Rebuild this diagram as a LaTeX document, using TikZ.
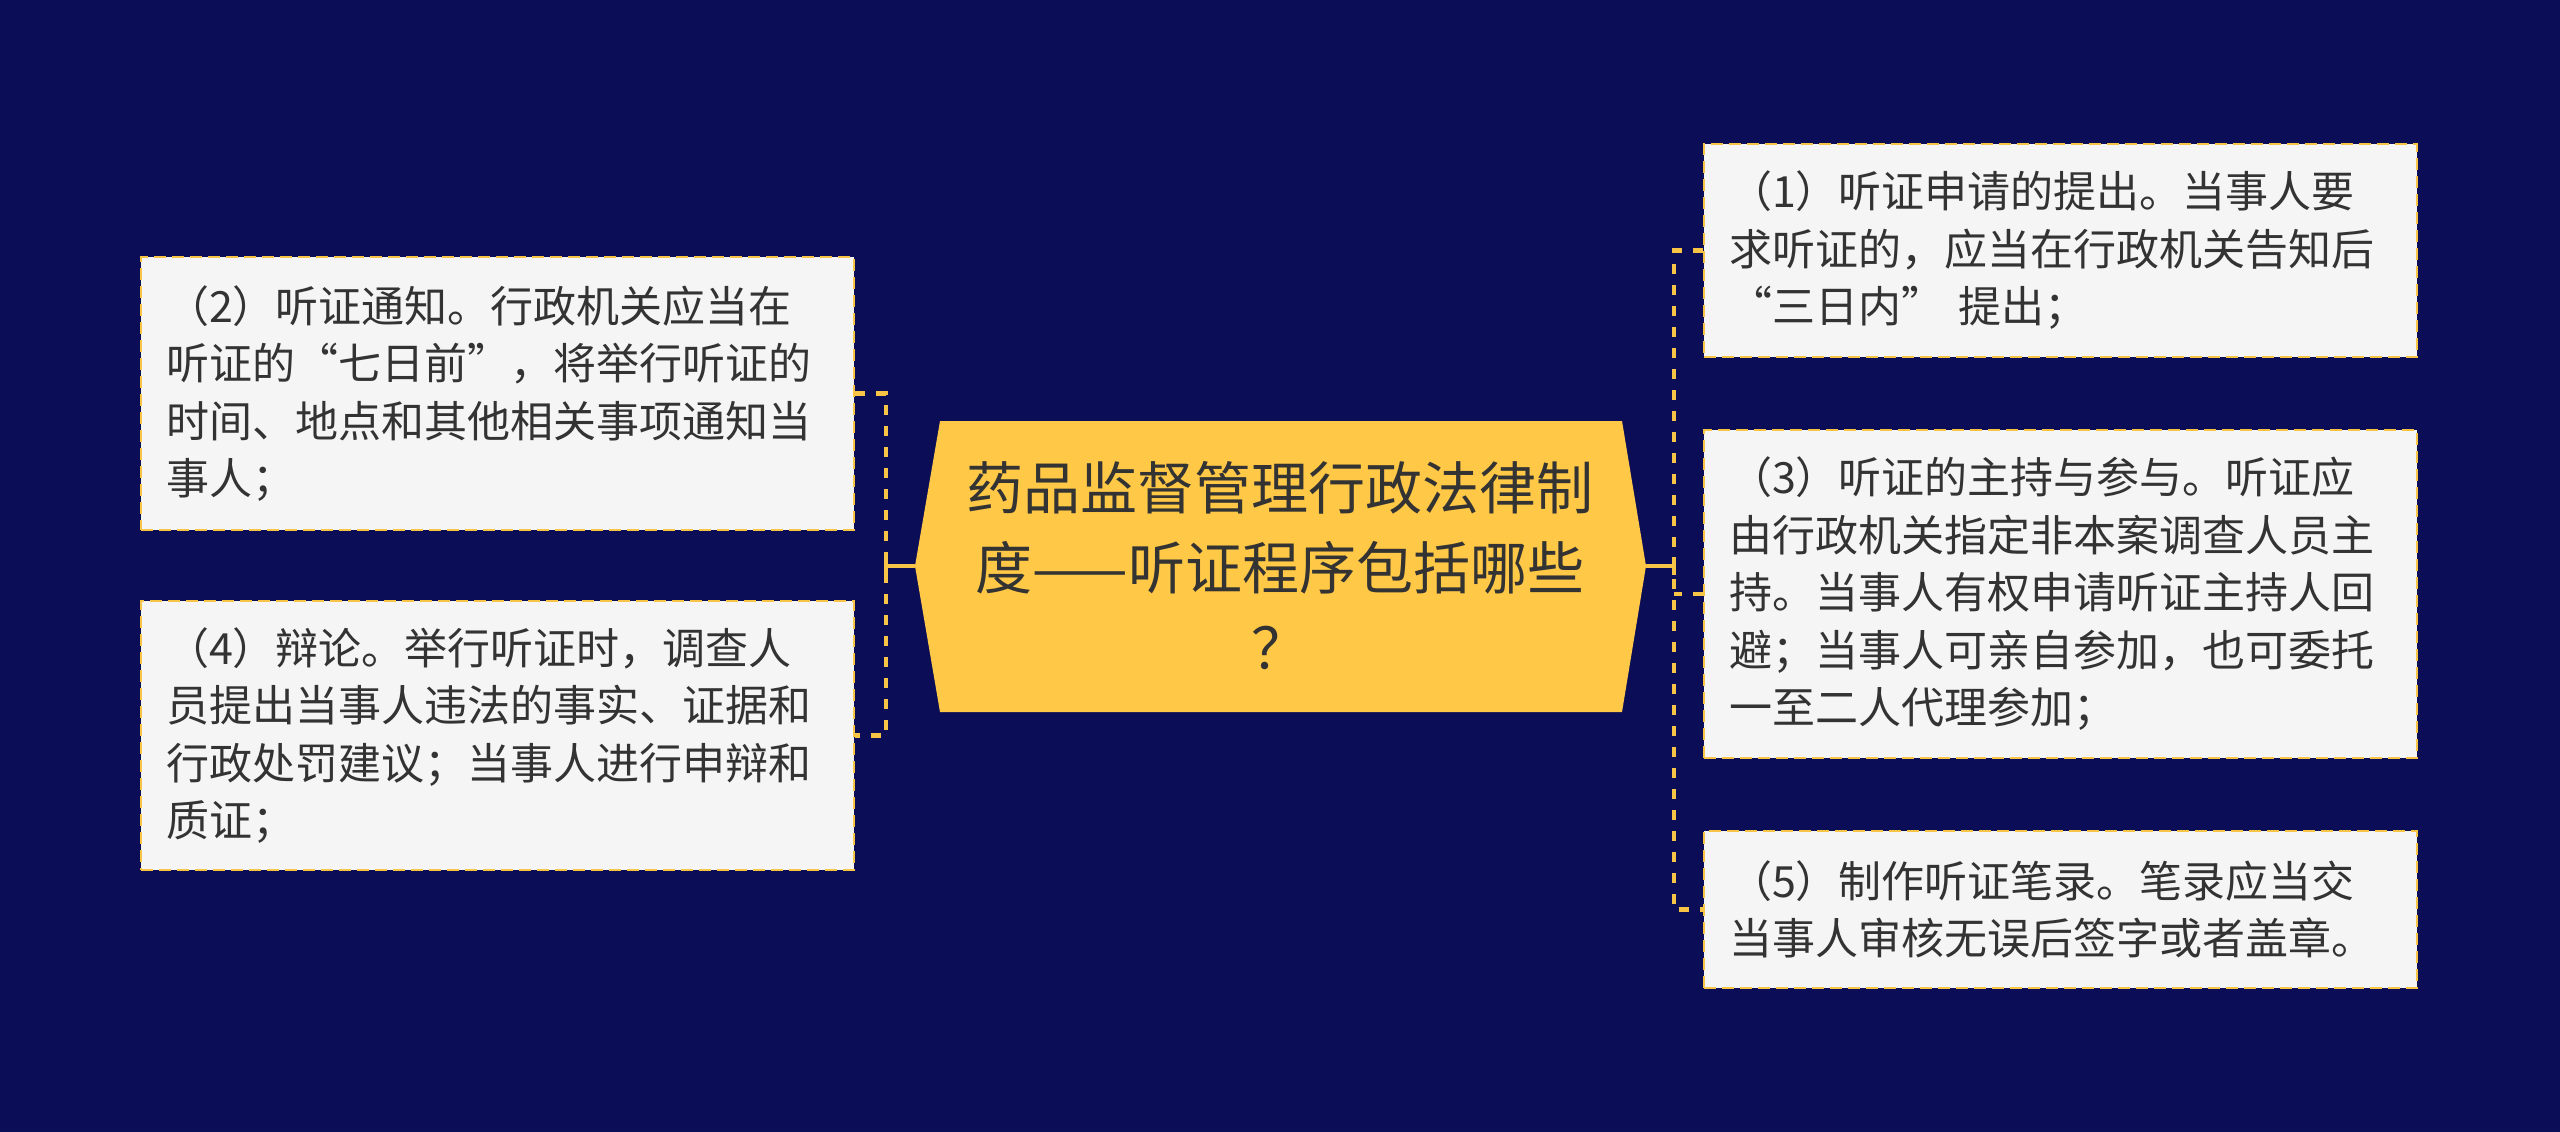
\documentclass[tikz,border=0pt]{standalone}
\usepackage{fontspec}
\setmainfont{Noto Sans CJK SC}
\definecolor{bg}{HTML}{0B0D57}
\definecolor{hexfill}{HTML}{FFC846}
\definecolor{boxfill}{HTML}{F5F5F5}
\definecolor{lineyel}{HTML}{F7C445}
\definecolor{txt}{HTML}{333333}
\begin{document}
\begin{tikzpicture}[x=1pt,y=-1pt,
  infobox/.style={draw=lineyel, fill=boxfill, line width=2.5pt, dash pattern=on 12pt off 6pt,
    text width=663pt, inner xsep=25pt, inner ysep=0pt, minimum width=713pt, align=left,
    text=txt, font=\fontsize{43}{57.5}\selectfont},
  dconn/.style={draw=lineyel, line width=4.5pt, dash pattern=on 10pt off 11pt},
  sconn/.style={draw=lineyel, line width=4.5pt},
  centertext/.style={text=txt, align=center, font=\fontsize{57}{80}\selectfont, inner sep=0pt}
]
\fill[bg] (0,0) rectangle (2560,1132);
\useasboundingbox (0,0) rectangle (2560,1132);

% central hexagon
\coordinate (h1) at (940,421);
\coordinate (h2) at (1622,421);
\coordinate (cr) at (1646,566);
\coordinate (h4) at (1622,712);
\coordinate (h5) at (940,712);
\coordinate (cl) at (915,566);
\fill[hexfill] (h1) -- (h2) -- (cr) -- (h4) -- (h5) -- (cl) -- cycle;
\node[centertext] (c) at (1280,566) {药品监督管理行政法律制\\度——听证程序包括哪些\\？};

% boxes
\node[infobox, minimum height=273pt] (b2) at (497.5,393.5) {（2）听证通知。行政机关应当在\\听证的“七日前”，将举行听证的\\时间、地点和其他相关事项通知当\\事人；};
\node[infobox, minimum height=269pt] (b4) at (497.5,735.5) {（4）辩论。举行听证时，调查人\\员提出当事人违法的事实、证据和\\行政处罚建议；当事人进行申辩和\\质证；};
\node[infobox, minimum height=213pt] (b1) at (2060.5,250.5) {（1）听证申请的提出。当事人要\\求听证的，应当在行政机关告知后\\“三日内” 提出；};
\node[infobox, minimum height=328pt] (b3) at (2060.5,594) {（3）听证的主持与参与。听证应\\由行政机关指定非本案调查人员主\\持。当事人有权申请听证主持人回\\避；当事人可亲自参加，也可委托\\一至二人代理参加；};
\node[infobox, minimum height=157pt] (b5) at (2060.5,909.5) {（5）制作听证笔录。笔录应当交\\当事人审核无误后签字或者盖章。};

% junctions
\coordinate (lj) at (886,566);
\coordinate (rj) at (1674,566);

% left connectors
\draw[dconn] (b2.east) -| (lj) |- (b4.east);
\draw[sconn] (cl) -- (lj);
\draw[sconn] ([yshift=9pt]lj) -- ([yshift=-9pt]lj);

% right connectors
\draw[dconn] (b1.west) -| (rj) |- (b5.west);
\draw[dconn] (b3.west) -- (b3.west -| rj);
\draw[sconn] (cr) -- (rj);
\draw[sconn] ([yshift=9pt]rj) -- ([yshift=-9pt]rj);
\end{tikzpicture}
\end{document}
